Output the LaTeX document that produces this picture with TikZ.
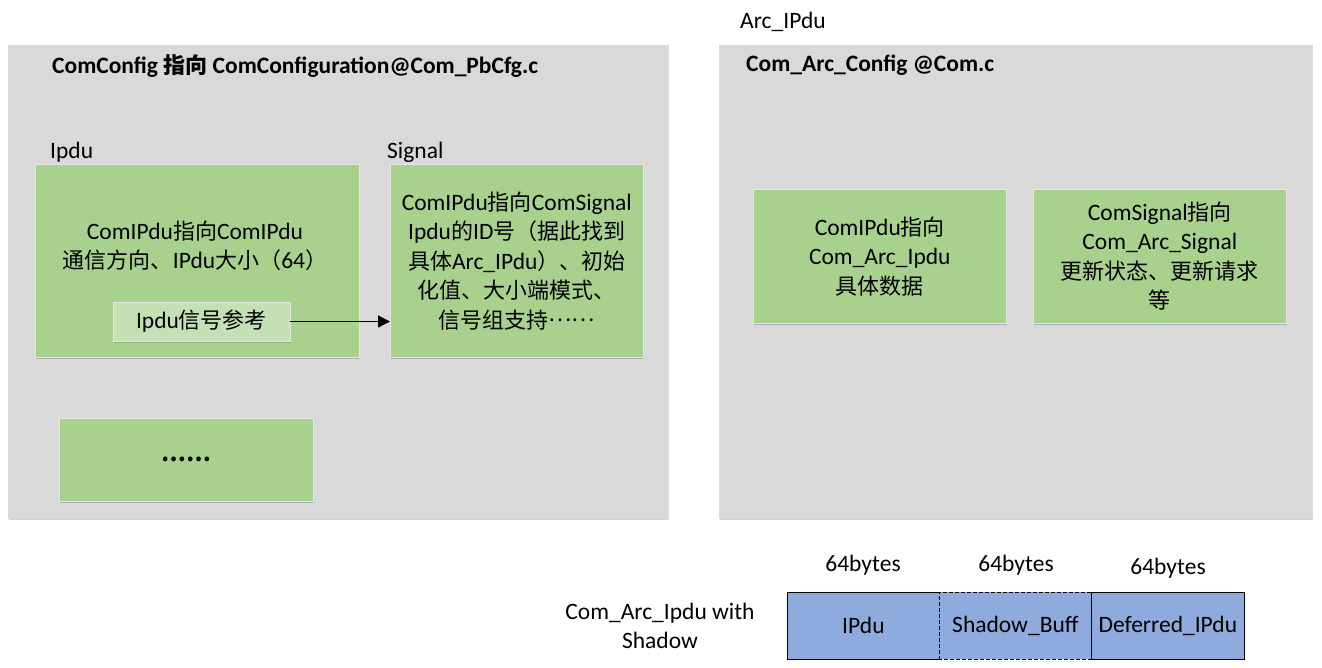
\documentclass[tikz,border=0pt]{standalone}
\usepackage{fontspec}
\setmainfont{Carlito}
\newfontfamily\cjk{Noto Sans CJK SC}
\newcommand\zh[1]{{\cjk\fontsize{22}{29.5}\selectfont #1}}
\newcommand\middots{\zh{\raisebox{0.3em}{……}}}
\usetikzlibrary{shadows,arrows.meta}
\definecolor{panelgray}{HTML}{D9D9D9}
\definecolor{boxgreen}{HTML}{A9D18E}
\definecolor{lightgreen}{HTML}{C5E0B4}
\definecolor{cellblue}{HTML}{8FAADC}
\tikzset{
  txtfont/.style={font=\fontsize{23.5}{29.5}\selectfont},
  txt/.style={txtfont, align=center, inner sep=0pt},
  panel/.style={fill=panelgray, draw=black!14, line width=0.8pt, anchor=north west, inner sep=0pt,
    drop shadow={shadow xshift=1pt, shadow yshift=-2pt, fill=blue!25!black, opacity=0.18}},
  gbox/.style={fill=boxgreen, draw=black!10, line width=0.6pt, anchor=north west, inner sep=0pt, align=center,
    txtfont,
    drop shadow={shadow xshift=1pt, shadow yshift=-2pt, fill=blue!25!black, opacity=0.18}},
  refbox/.style={fill=lightgreen, draw=black!10, line width=0.6pt, inner sep=0pt,
    txtfont,
    drop shadow={shadow xshift=1pt, shadow yshift=-2pt, fill=blue!25!black, opacity=0.15}},
  cell/.style={fill=cellblue, draw=black, line width=0.8pt, anchor=north west, inner sep=0pt,
    txtfont},
  dashline/.style={line width=0.9pt, dash pattern=on 4pt off 2pt},
  arr/.style={line width=1.5pt, -{Triangle[length=12pt,width=12pt]}},
}
\begin{document}
\begin{tikzpicture}[x=1pt,y=-1pt]
\useasboundingbox (0,0) rectangle (1322,667);
% panels
\node[panel, minimum width=660pt, minimum height=473pt] (leftpanel) at (8,45) {};
\node[panel, minimum width=593pt, minimum height=473pt] (rightpanel) at (719,45) {};
% titles
\node[txt, font=\fontsize{23.5}{29.5}\selectfont\bfseries, anchor=west] (ltitle) at (52,66) {ComConfig \zh{\bfseries 指向} ComConfiguration@Com\_PbCfg.c};
\node[txt, font=\fontsize{23.5}{29.5}\selectfont\bfseries, anchor=west] (rtitle) at (746,65) {Com\_Arc\_Config @Com.c};
\node[txt, anchor=west] (arclabel) at (740,22) {Arc\_IPdu};
\node[txt, anchor=west] (ipdulabel) at (50,152) {Ipdu};
\node[txt, anchor=west] (siglabel) at (387,152) {Signal};
% left boxes
\node[gbox, minimum width=324pt, minimum height=193pt] (ipdubox) at (35,164) {};
\node[txt] (ipdutext) at (195,246) {ComIPdu\zh{指向}ComIPdu\\\zh{通信方向、}IPdu\zh{大小（}64\zh{）}};
\node[refbox, minimum width=177pt, minimum height=39pt] (refnode) at (201.5,321.5) {Ipdu\zh{信号参考}};
\node[gbox, minimum width=253pt, minimum height=193pt] (sigbox) at (390,164)
  {ComIPdu\zh{指向}ComSignal\\Ipdu\zh{的}ID\zh{号（据此找到}\\\zh{具体}Arc\_IPdu\zh{）、初始}\\\zh{化值、大小端模式、}\\\zh{信号组支持}\middots};
\draw[arr] (refnode.east) -- (refnode.east -| sigbox.west);
\node[gbox, minimum width=254pt, minimum height=83pt] (morebox) at (59,418) {\zh{\bfseries ……}};
% right boxes
\node[gbox, minimum width=253pt, minimum height=134pt] (arcipdu) at (753,189)
  {ComIPdu\zh{指向}\\Com\_Arc\_Ipdu\\\zh{具体数据}};
\node[gbox, minimum width=253pt, minimum height=134pt] (arcsig) at (1033,189)
  {ComSignal\zh{指向}\\Com\_Arc\_Signal\\\zh{更新状态、更新请求}\\\zh{等}};
% bottom buffer layout
\node[cell, minimum width=152pt, minimum height=67pt] (cellipdu) at (787,592) {IPdu};
\node[cell, draw=none, minimum width=152pt, minimum height=67pt] (cellshadow) at (939,592) {Shadow\_Buff};
\node[cell, minimum width=153pt, minimum height=67pt] (celldef) at (1091,592) {Deferred\_IPdu};
\draw[dashline] (cellshadow.south west) rectangle (cellshadow.north east);
\node[txt] (b1) at (863,565) {64bytes};
\node[txt] (b2) at (1016,565) {64bytes};
\node[txt] (b3) at (1168,568) {64bytes};
\node[txt] (withshadow) at (660,626) {Com\_Arc\_Ipdu with\\Shadow};
\end{tikzpicture}
\end{document}
